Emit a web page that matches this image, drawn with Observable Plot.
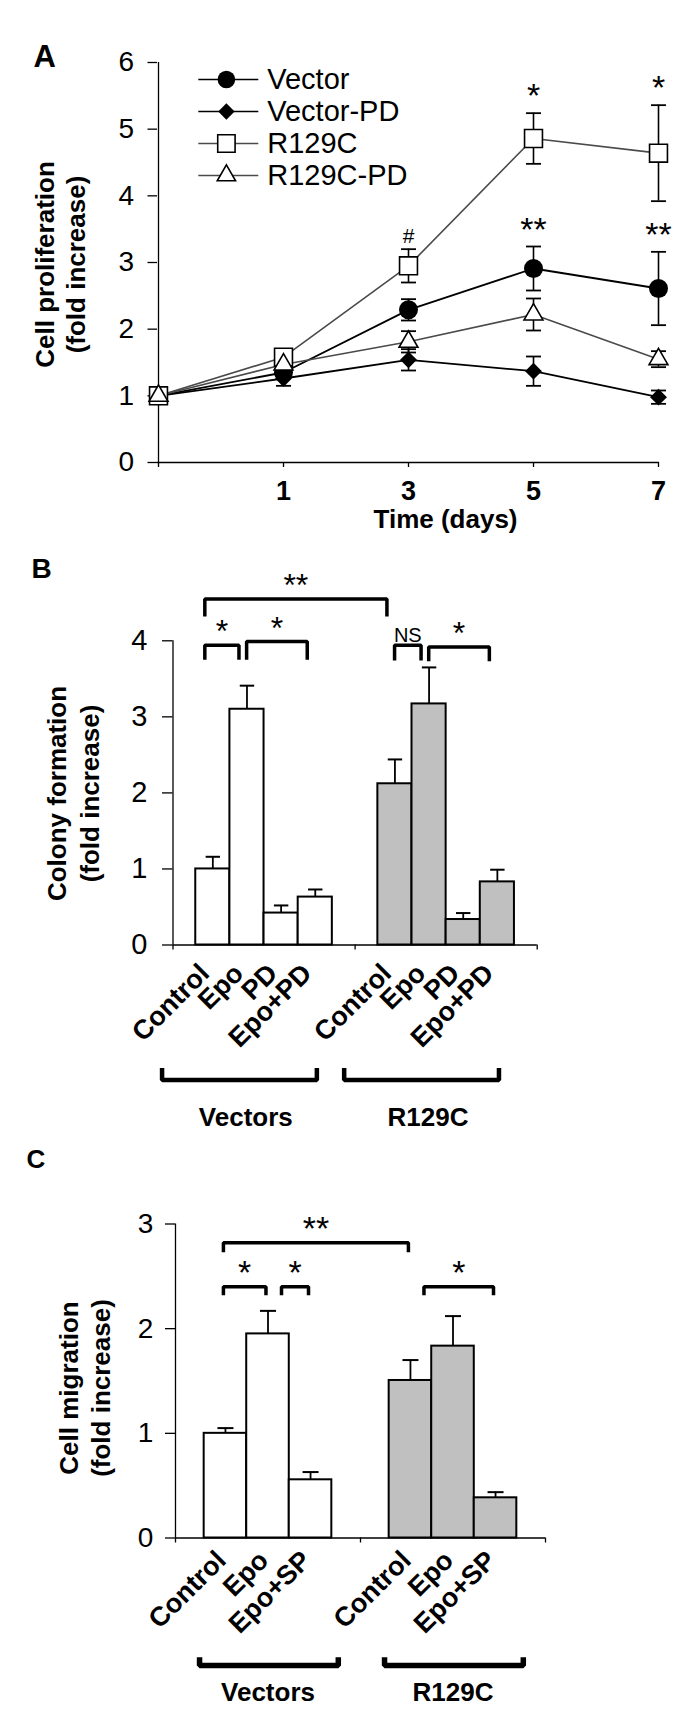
<!DOCTYPE html>
<html><head><meta charset="utf-8">
<script src="https://cdn.jsdelivr.net/npm/d3@7"></script>
<script src="https://cdn.jsdelivr.net/npm/@observablehq/plot@0.6"></script>
<style>
html,body{margin:0;padding:0;background:#fff;}
#fig{position:relative;width:693px;height:1710px;background:#fff;overflow:hidden;}
</style></head><body><div id="fig"></div>
<script>
const FONT = "'Liberation Sans', Arial, Helvetica, sans-serif";

// ---------- Panel A data ----------
const days = ["0", "1", "3", "5", "7"];
const xTickLabelsA = ["", "1", "3", "5", "7"];
const yTicksA = [0, 1, 2, 3, 4, 5, 6];
const seriesNames = ["Vector", "Vector-PD", "R129C", "R129C-PD"];
const vectorMean   = [1.00, 1.35, 2.29, 2.91, 2.61];
const vectorErr    = [0.00, 0.06, 0.16, 0.33, 0.55];
const vectorPDMean = [1.00, 1.26, 1.54, 1.37, 0.98];
const vectorPDErr  = [0.00, 0.11, 0.16, 0.22, 0.10];
const r129cMean    = [1.00, 1.58, 2.95, 4.86, 4.64];
const r129cErr     = [0.00, 0.05, 0.25, 0.38, 0.72];
const r129cPDMean  = [1.00, 1.47, 1.81, 2.22, 1.55];
const r129cPDErr   = [0.00, 0.05, 0.16, 0.24, 0.12];
const annotA = [
  {series: "R129C", day: "3", text: "#"},
  {series: "R129C", day: "5", text: "*"},
  {series: "R129C", day: "7", text: "*"},
  {series: "Vector", day: "5", text: "**"},
  {series: "Vector", day: "7", text: "**"}
];

// ---------- Panel B data ----------
const groups = ["Vectors", "R129C"];
const treatmentsB = ["Control", "Epo", "PD", "Epo+PD"];
const yTicksB = [0, 1, 2, 3, 4];
const colonyVectors    = [1.00, 3.10, 0.42, 0.63];
const colonyVectorsErr = [0.16, 0.31, 0.10, 0.10];
const colonyR129C      = [2.12, 3.17, 0.335, 0.83];
const colonyR129CErr   = [0.32, 0.48, 0.085, 0.16];
const sigB = [
  {from: ["Vectors", "Control"], to: ["R129C", "Control"], text: "**", level: 4.55, drop: 0.23},
  {from: ["Vectors", "Control"], to: ["Vectors", "Epo"], text: "*", level: 3.94, drop: 0.19},
  {from: ["Vectors", "Epo"], to: ["Vectors", "Epo+PD"], text: "*", level: 3.99, drop: 0.24},
  {from: ["R129C", "Control"], to: ["R129C", "Epo"], text: "NS", level: 3.94, drop: 0.20},
  {from: ["R129C", "Epo"], to: ["R129C", "Epo+PD"], text: "*", level: 3.92, drop: 0.19}
];

// ---------- Panel C data ----------
const treatmentsC = ["Control", "Epo", "Epo+SP"];
const yTicksC = [0, 1, 2, 3];
const migrationVectors    = [1.00, 1.95, 0.556];
const migrationVectorsErr = [0.05, 0.22, 0.074];
const migrationR129C      = [1.505, 1.833, 0.384];
const migrationR129CErr   = [0.195, 0.287, 0.054];
const sigC = [
  {from: ["Vectors", "Control"], to: ["R129C", "Control"], text: "**", level: 2.82, drop: 0.09},
  {from: ["Vectors", "Control"], to: ["Vectors", "Epo"], text: "*", level: 2.40, drop: 0.08},
  {from: ["Vectors", "Epo"], to: ["Vectors", "Epo+SP"], text: "*", level: 2.40, drop: 0.08},
  {from: ["R129C", "Control"], to: ["R129C", "Epo+SP"], text: "*", level: 2.40, drop: 0.08}
];

// ---------- helpers ----------
const fig = document.getElementById("fig");
function place(el, top, left = 0) {
  el.style.position = "absolute";
  el.style.top = top + "px";
  el.style.left = left + "px";
  el.style.margin = "0";
  fig.appendChild(el);
}
const intFmt = d3.format("d");
const capSymbol = {draw(ctx, size) { const w = Math.sqrt(size / Math.PI); ctx.moveTo(-w, 0); ctx.lineTo(w, 0); }};
const baseStyle = {fontFamily: FONT, background: "none", overflow: "visible", color: "black"};

// ---------- Panel A ----------
const meansA = [vectorMean, vectorPDMean, r129cMean, r129cPDMean];
const errsA = [vectorErr, vectorPDErr, r129cErr, r129cPDErr];
const styleA = {
  "Vector":    {symbol: "circle",   fill: "black", stroke: "none",  r: 9.5, line: "#000000", lw: 1.8, lr: 8.8},
  "Vector-PD": {symbol: "diamond2", fill: "black", stroke: "none",  r: 7.6, line: "#000000", lw: 1.8, lr: 7.4},
  "R129C":     {symbol: "square",   fill: "white", stroke: "black", r: 10.1, line: "#4a4a4a", lw: 1.6, lr: 9.8},
  "R129C-PD":  {symbol: "triangle", fill: "white", stroke: "black", r: 7.0, line: "#4a4a4a", lw: 1.6, lr: 6.8}
};
const rowsA = seriesNames.flatMap((s, k) => days.map((day, i) => ({series: s, day, mean: meansA[k][i], err: errsA[k][i]})));
const errRowsA = rowsA.filter(d => d.err > 0);
const annotRowsA = annotA.map(a => {
  const r = rowsA.find(d => d.series === a.series && d.day === a.day);
  return {...a, top: r.mean + r.err};
});

const plotA = Plot.plot({
  width: 693, height: 545, marginLeft: 157, marginRight: 34, marginTop: 62, marginBottom: 83,
  style: baseStyle,
  x: {type: "point", domain: days, padding: 0},
  y: {domain: [0, 6]},
  marks: [
    Plot.axisY({ticks: yTicksA, tickFormat: intFmt, tickSize: 9.5, tickPadding: 14, fontSize: 28, label: null, strokeWidth: 1.3}),
    Plot.axisX({tickSize: 5, tickPadding: 13, fontSize: 27, fontWeight: "bold", label: null, strokeWidth: 1.3,
      tickFormat: d => xTickLabelsA[days.indexOf(d)]}),
    Plot.ruleY([0], {stroke: "black", strokeWidth: 1.3}),
    Plot.ruleX([days[0]], {stroke: "black", strokeWidth: 1.3}),
    ...seriesNames.map(s => Plot.line(rowsA.filter(d => d.series === s),
      {x: "day", y: "mean", stroke: styleA[s].line, strokeWidth: styleA[s].lw})),
    Plot.ruleX(errRowsA, {x: "day", y1: d => d.mean - d.err, y2: d => d.mean + d.err, stroke: "black", strokeWidth: 1.6}),
    Plot.dot(errRowsA, {x: "day", y: d => d.mean + d.err, symbol: capSymbol, r: 7.5, fill: "none", stroke: "black", strokeWidth: 1.8}),
    Plot.dot(errRowsA, {x: "day", y: d => d.mean - d.err, symbol: capSymbol, r: 7.5, fill: "none", stroke: "black", strokeWidth: 1.8}),
    ...seriesNames.map(s => Plot.dot(rowsA.filter(d => d.series === s),
      {x: "day", y: "mean", symbol: styleA[s].symbol, r: styleA[s].r, fill: styleA[s].fill, stroke: styleA[s].stroke, strokeWidth: 1.6})),
    Plot.text(annotRowsA, {x: "day", y: "top", text: "text", lineAnchor: "bottom", dy: -6,
      fontSize: d => d.text === "#" ? 21 : 34}),
    Plot.text(["Time (days)"], {frameAnchor: "bottom", textAnchor: "middle", lineAnchor: "bottom", dx: 37, dy: 65, fontSize: 26, fontWeight: "bold"}),
    Plot.text(["Cell proliferation"], {frameAnchor: "left", rotate: -90, textAnchor: "middle", lineAnchor: "bottom", dx: -104, dy: 2, fontSize: 26, fontWeight: "bold"}),
    Plot.text(["(fold increase)"], {frameAnchor: "left", rotate: -90, textAnchor: "middle", lineAnchor: "bottom", dx: -73, dy: 2, fontSize: 26, fontWeight: "bold"}),
    Plot.text(["A"], {frameAnchor: "top-left", textAnchor: "start", lineAnchor: "bottom", dx: -124, dy: 4, fontSize: 31, fontWeight: "bold"})
  ]
});
place(plotA, 0);

// legend for panel A (inside plot area)
const legendA = Plot.plot({
  width: 240, height: 170, marginLeft: 0, marginRight: 0, marginTop: 0, marginBottom: 0,
  style: baseStyle,
  x: {domain: [0, 1], range: [8.3, 68.3], axis: null},
  y: {type: "point", domain: seriesNames, range: [22.7, 151.7], axis: null},
  marks: [
    ...seriesNames.map(s => Plot.ruleY([s], {x1: 0, x2: 1, y: d => d, stroke: styleA[s].line, strokeWidth: 1.7})),
    ...seriesNames.map(s => Plot.dot([s], {x: 0.46, y: d => d, symbol: styleA[s].symbol, r: styleA[s].lr, fill: styleA[s].fill, stroke: styleA[s].stroke, strokeWidth: 1.6})),
    Plot.text(seriesNames, {x: 1, y: d => d, dx: 8.4, dy: 9, textAnchor: "start", lineAnchor: "bottom", fontSize: 29})
  ]
});
place(legendA, 40, 190);

// ---------- bar panel builder ----------
function barPanel(cfg) {
  const n = cfg.treatments.length;
  const w = cfg.inner / n;
  const gIdx = g => groups.indexOf(g);
  const x1Of = (gi, ti) => gi + (1 - cfg.inner) / 2 + ti * w;
  const xcOf = (g, t) => x1Of(gIdx(g), cfg.treatments.indexOf(t)) + w / 2;
  const sameBar = (p, q) => p[0] === q[0] && p[1] === q[1];
  const rows = groups.flatMap((g, gi) => cfg.treatments.map((t, ti) => ({
    group: g, gi, treatment: t, ti,
    mean: cfg.means[gi][ti], err: cfg.errs[gi][ti],
    x1: x1Of(gi, ti), x2: x1Of(gi, ti) + w, xc: x1Of(gi, ti) + w / 2
  })));
  const ends = cfg.sig.map(s => {
    const shared = cfg.sig.some(o => o !== s && sameBar(o.to, s.from));
    const a = xcOf(...s.from) + cfg.sigOffset + (shared ? cfg.sharedGap : 0);
    const b = xcOf(...s.to) + cfg.sigOffset;
    return {a, b};
  });
  const sigPts = cfg.sig.flatMap((s, k) => {
    const {a, b} = ends[k];
    return [
      {k, x: a, y: s.level - s.drop}, {k, x: a, y: s.level},
      {k, x: b, y: s.level}, {k, x: b, y: s.level - s.drop}
    ];
  });
  const sigLabels = cfg.sig.map((s, k) => ({text: s.text, level: s.level, x: (ends[k].a + ends[k].b) / 2}));
  const grpPts = groups.flatMap((g, gi) => [
    {g, x: gi + cfg.gb[0], y: cfg.gb[2]}, {g, x: gi + cfg.gb[0], y: cfg.gb[3]},
    {g, x: gi + cfg.gb[1], y: cfg.gb[3]}, {g, x: gi + cfg.gb[1], y: cfg.gb[2]}
  ]);
  const grpLabels = groups.map((g, gi) => ({g, x: gi + cfg.gl[0], y: cfg.gl[1]}));
  return Plot.plot({
    width: 693, height: cfg.height,
    marginLeft: cfg.m[0], marginRight: cfg.m[1], marginTop: cfg.m[2], marginBottom: cfg.m[3],
    style: baseStyle,
    x: {domain: [0, 2]},
    y: {domain: cfg.yDomain},
    marks: [
      Plot.axisY({ticks: cfg.yTicks, tickFormat: intFmt, tickSize: cfg.ts, tickPadding: cfg.tp, fontSize: cfg.tfs, label: null, strokeWidth: 1.3}),
      Plot.axisX({ticks: [0, 1, 2], tickSize: 5, tickFormat: () => "", label: null, strokeWidth: 1.3}),
      Plot.rect(rows.filter(d => d.gi === 0), {x1: "x1", x2: "x2", y1: 0, y2: "mean", fill: "white", stroke: "black", strokeWidth: 2}),
      Plot.rect(rows.filter(d => d.gi === 1), {x1: "x1", x2: "x2", y1: 0, y2: "mean", fill: "#c0c0c0", stroke: "black", strokeWidth: 2}),
      Plot.ruleX(rows, {x: "xc", y1: "mean", y2: d => d.mean + d.err, stroke: "black", strokeWidth: 1.8}),
      Plot.dot(rows, {x: "xc", y: d => d.mean + d.err, symbol: capSymbol, r: cfg.cap, fill: "none", stroke: "black", strokeWidth: 2}),
      Plot.ruleY([0], {stroke: "black", strokeWidth: 1.3}),
      Plot.ruleX([0], {stroke: "black", strokeWidth: 1.3}),
      Plot.text(rows, {x: "xc", y: 0, text: "treatment", rotate: -45, textAnchor: "end", lineAnchor: "bottom",
        dx: cfg.lab[0], dy: cfg.lab[1], fontSize: cfg.labfs, fontWeight: "bold"}),
      Plot.line(grpPts, {x: "x", y: "y", z: "g", stroke: "black", strokeWidth: cfg.gbw, strokeLinejoin: "miter", strokeLinecap: "butt"}),
      Plot.text(grpLabels, {x: "x", y: "y", text: "g", textAnchor: "middle", lineAnchor: "bottom", fontSize: 26, fontWeight: "bold"}),
      Plot.line(sigPts, {x: "x", y: "y", z: "k", stroke: "black", strokeWidth: 3.5, strokeLinejoin: "miter", strokeLinecap: "butt"}),
      Plot.text(sigLabels.filter(d => d.text !== "NS"), {x: "x", y: "level", text: "text", lineAnchor: "bottom", dy: -3, fontSize: cfg.starfs}),
      Plot.text(sigLabels.filter(d => d.text === "NS"), {x: "x", y: "level", text: "text", lineAnchor: "bottom", dy: -3, fontSize: 20}),
      Plot.text([cfg.title[0]], {frameAnchor: "left", rotate: -90, textAnchor: "middle", lineAnchor: "bottom", dx: cfg.tx[0], dy: cfg.tx[2], fontSize: 26, fontWeight: "bold"}),
      Plot.text([cfg.title[1]], {frameAnchor: "left", rotate: -90, textAnchor: "middle", lineAnchor: "bottom", dx: cfg.tx[1], dy: cfg.tx[2], fontSize: 26, fontWeight: "bold"}),
      Plot.text([cfg.letter], {frameAnchor: "top-left", textAnchor: "start", lineAnchor: "bottom", dx: cfg.lt[0], dy: cfg.lt[1], fontSize: cfg.lt[2], fontWeight: "bold"})
    ]
  });
}

const plotB = barPanel({
  height: 585, m: [172.5, 156.3, 95.3, 185.5],
  treatments: treatmentsB, means: [colonyVectors, colonyR129C], errs: [colonyVectorsErr, colonyR129CErr],
  inner: 0.75, yDomain: [0, 4], yTicks: yTicksB, ts: 10.5, tp: 15, tfs: 29, cap: 7.2,
  sig: sigB, sigOffset: -0.044, sharedGap: 0.042, starfs: 32,
  lab: [-2, 30], labfs: 27,
  gb: [-0.06, 0.79, -1.617, -1.775], gbw: 4.5, gl: [0.40, -2.374],
  title: ["Colony formation", "(fold increase)"], tx: [-106.8, -74.2, 0.6],
  letter: "B", lt: [-141.5, -62.7, 28]
});
place(plotB, 545);

const plotC = barPanel({
  height: 580, m: [175, 148, 93.5, 172.5],
  treatments: treatmentsC, means: [migrationVectors, migrationR129C], errs: [migrationVectorsErr, migrationR129CErr],
  inner: 0.69, yDomain: [0, 3], yTicks: yTicksC, ts: 10, tp: 12.2, tfs: 28, cap: 8,
  sig: sigC, sigOffset: -0.011, sharedGap: 0.084, starfs: 34,
  lab: [2, 24], labfs: 27,
  gb: [0.13, 0.88, -1.139, -1.218], gbw: 5.5, gl: [0.50, -1.553],
  title: ["Cell migration", "(fold increase)"], tx: [-98, -66, 7],
  letter: "C", lt: [-149, -56.5, 26]
});
place(plotC, 1130);
</script></body></html>
